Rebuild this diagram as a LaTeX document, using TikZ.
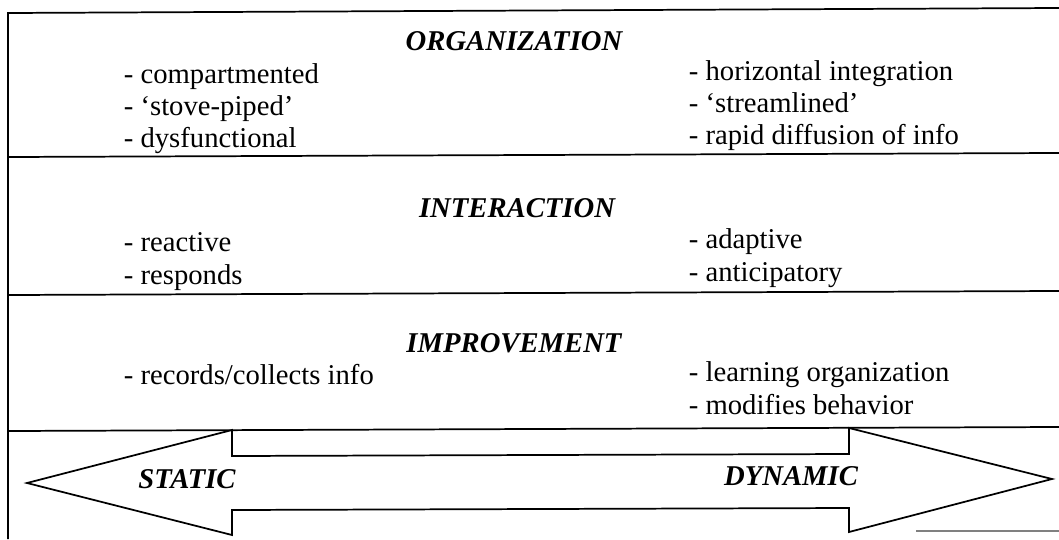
\documentclass[tikz,border=0pt]{standalone}
\usepackage{fontspec}
\setmainfont{Liberation Serif}
\usepackage{tikz}

\tikzset{
  item/.style={anchor=base west, inner sep=0pt, font=\fontsize{21.5}{24}\selectfont},
  head/.style={anchor=base, inner sep=0pt, font=\fontsize{21.5}{24}\selectfont\bfseries\itshape}
}

\begin{document}
\begin{tikzpicture}[x=0.75pt, y=-0.75pt, line width=1.3pt]
\useasboundingbox (0, 0) rectangle (1059, 539);

% frame and bands
\draw (1059, 8) -- (8, 13) -- (8, 539);
\draw (8, 157) -- (1059, 153);
\draw (8, 295) -- (1059, 291);
\draw (8, 431) -- (1059, 427);
\draw[gray, line width=0.8pt] (916, 531) -- (1059, 531);

% organization
\path (514, 50) node[head] (org) {ORGANIZATION}
      (123, 83) node[item] (o1) {- compartmented}
      (123, 115) node[item] (o2) {- `stove-piped'}
      (123, 147) node[item] (o3) {- dysfunctional}
      (688, 80) node[item] (o4) {- horizontal integration}
      (688, 112) node[item] (o5) {- `streamlined'}
      (688, 144) node[item] (o6) {- rapid diffusion of info};

% interaction
\path (517, 217) node[head] (int) {INTERACTION}
      (123, 251) node[item] (i1) {- reactive}
      (123, 284) node[item] (i2) {- responds}
      (688, 248) node[item] (i3) {- adaptive}
      (688, 281) node[item] (i4) {- anticipatory};

% improvement
\path (514, 352) node[head] (imp) {IMPROVEMENT}
      (123, 384) node[item] (m1) {- records/collects info}
      (688, 381) node[item] (m2) {- learning organization}
      (688, 414) node[item] (m3) {- modifies behavior};

% double arrow
\draw[line join=miter] (27, 483) -- (232, 430) -- (232, 456) -- (849, 454) -- (849, 428)
      -- (1052, 479) -- (849, 532) -- (849, 508) -- (232, 510) -- (232, 535) -- cycle;
\path (187, 488) node[head] (st) {STATIC}
      (791, 485) node[head] (dy) {DYNAMIC};
\end{tikzpicture}
\end{document}
